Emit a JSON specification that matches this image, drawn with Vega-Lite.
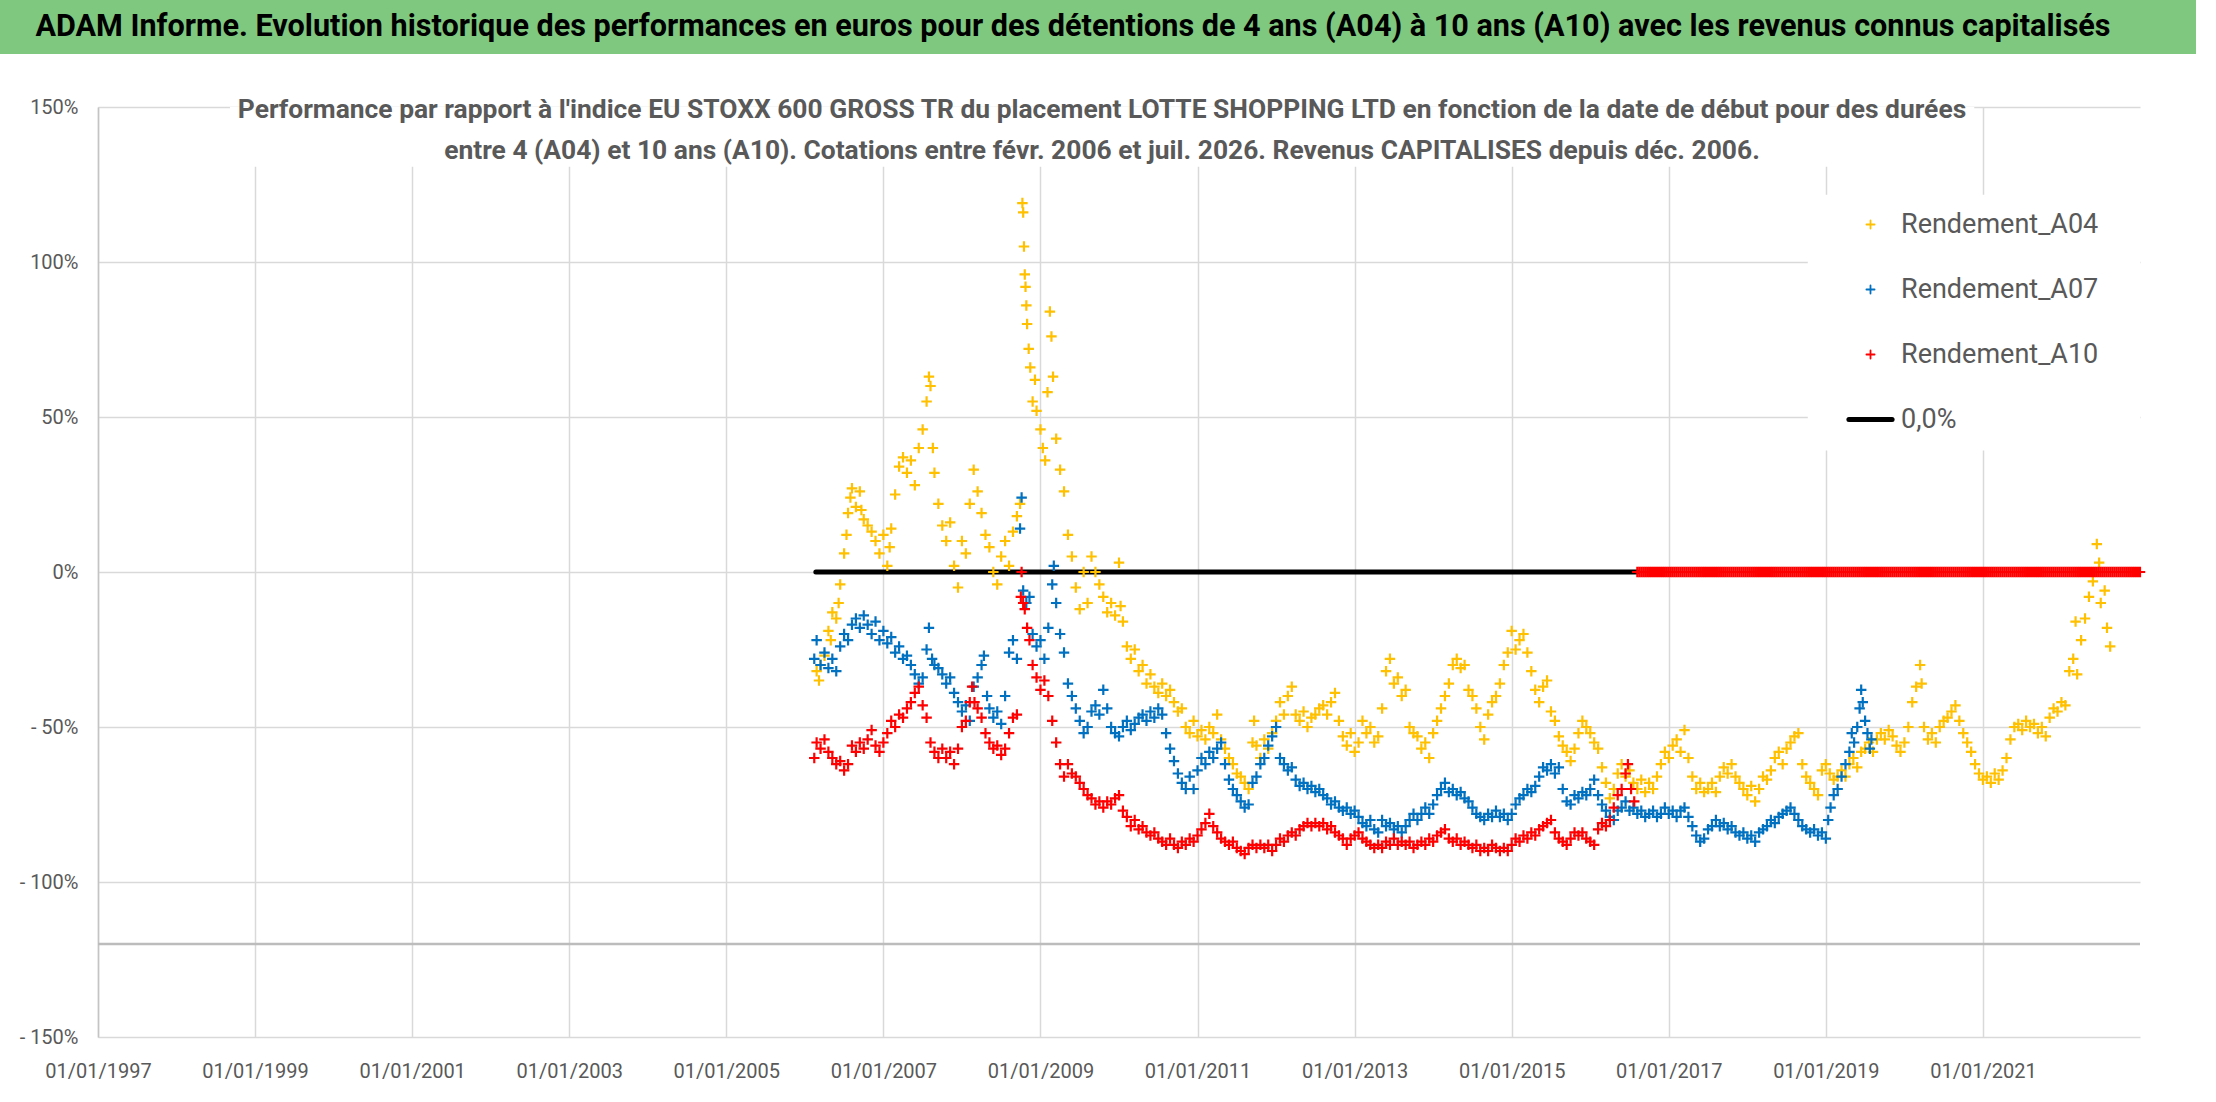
{
  "$schema": "https://vega.github.io/schema/vega-lite/v6.json",
  "padding": 0,
  "background": "white",
  "columns": 1,
  "spacing": 42,
  "config": {"view": {"stroke": null}, "font": "Roboto"},
  "concat": [
    {
      "width": 2196,
      "height": 54,
      "view": {"fill": "#7fc87f", "stroke": null},
      "data": {"values": [{"titre": "ADAM Informe. Evolution historique des performances en euros pour des détentions de 4 ans (A04) à 10 ans (A10) avec les revenus connus capitalisés"}]},
      "mark": {"type": "text", "font": "Roboto", "fontSize": 30.6, "fontWeight": "bold", "color": "#000000", "dx": -25},
      "encoding": {"text": {"field": "titre"}}
    },
    {
      "width": 2140,
      "height": 930,
      "title": {
        "text": ["Performance par rapport à l'indice EU STOXX 600 GROSS TR  du placement LOTTE SHOPPING LTD en fonction de la date de début pour des durées", "entre 4 (A04) et 10 ans (A10). Cotations entre févr. 2006 et juil. 2026. Revenus CAPITALISES depuis déc. 2006."],
        "anchor": "middle",
        "frame": "group",
        "offset": -67,
        "dx": 32,
        "lineHeight": 41,
        "font": "Roboto",
        "fontSize": 26.4,
        "fontWeight": "bold",
        "color": "#595959"
      },
      "data": {"values": [
        {"t":2006.15,"s":"A04","v":-0.32},{"t":2006.18,"s":"A04","v":-0.35},{"t":2006.20,"s":"A04","v":-0.30},{"t":2006.25,"s":"A04","v":-0.27},{"t":2006.30,"s":"A04","v":-0.19},{"t":2006.33,"s":"A04","v":-0.22},{"t":2006.35,"s":"A04","v":-0.13},{"t":2006.40,"s":"A04","v":-0.15},{"t":2006.43,"s":"A04","v":-0.10},{"t":2006.45,"s":"A04","v":-0.04},
        {"t":2006.50,"s":"A04","v":0.06},{"t":2006.53,"s":"A04","v":0.12},{"t":2006.55,"s":"A04","v":0.19},{"t":2006.58,"s":"A04","v":0.24},{"t":2006.60,"s":"A04","v":0.27},{"t":2006.65,"s":"A04","v":0.21},{"t":2006.70,"s":"A04","v":0.26},{"t":2006.72,"s":"A04","v":0.20},{"t":2006.75,"s":"A04","v":0.17},{"t":2006.80,"s":"A04","v":0.15},
        {"t":2006.85,"s":"A04","v":0.13},{"t":2006.90,"s":"A04","v":0.10},{"t":2006.95,"s":"A04","v":0.06},{"t":2007.00,"s":"A04","v":0.12},{"t":2007.05,"s":"A04","v":0.02},{"t":2007.08,"s":"A04","v":0.08},{"t":2007.10,"s":"A04","v":0.14},{"t":2007.15,"s":"A04","v":0.25},{"t":2007.20,"s":"A04","v":0.34},{"t":2007.25,"s":"A04","v":0.37},
        {"t":2007.30,"s":"A04","v":0.32},{"t":2007.35,"s":"A04","v":0.36},{"t":2007.40,"s":"A04","v":0.28},{"t":2007.45,"s":"A04","v":0.40},{"t":2007.50,"s":"A04","v":0.46},{"t":2007.55,"s":"A04","v":0.55},{"t":2007.58,"s":"A04","v":0.63},{"t":2007.60,"s":"A04","v":0.60},{"t":2007.63,"s":"A04","v":0.40},{"t":2007.65,"s":"A04","v":0.32},
        {"t":2007.70,"s":"A04","v":0.22},{"t":2007.75,"s":"A04","v":0.15},{"t":2007.80,"s":"A04","v":0.10},{"t":2007.85,"s":"A04","v":0.16},{"t":2007.90,"s":"A04","v":0.02},{"t":2007.95,"s":"A04","v":-0.05},{"t":2008.00,"s":"A04","v":0.10},{"t":2008.05,"s":"A04","v":0.06},{"t":2008.10,"s":"A04","v":0.22},{"t":2008.15,"s":"A04","v":0.33},
        {"t":2008.20,"s":"A04","v":0.26},{"t":2008.25,"s":"A04","v":0.19},{"t":2008.30,"s":"A04","v":0.12},{"t":2008.35,"s":"A04","v":0.08},{"t":2008.40,"s":"A04","v":0.00},{"t":2008.45,"s":"A04","v":-0.04},{"t":2008.50,"s":"A04","v":0.05},{"t":2008.55,"s":"A04","v":0.10},{"t":2008.60,"s":"A04","v":0.02},{"t":2008.65,"s":"A04","v":0.13},
        {"t":2008.70,"s":"A04","v":0.18},{"t":2008.74,"s":"A04","v":0.22},{"t":2008.77,"s":"A04","v":1.19},{"t":2008.78,"s":"A04","v":1.16},{"t":2008.79,"s":"A04","v":1.05},{"t":2008.80,"s":"A04","v":0.96},{"t":2008.81,"s":"A04","v":0.92},{"t":2008.82,"s":"A04","v":0.86},{"t":2008.83,"s":"A04","v":0.80},{"t":2008.85,"s":"A04","v":0.72},
        {"t":2008.87,"s":"A04","v":0.66},{"t":2008.90,"s":"A04","v":0.55},{"t":2008.93,"s":"A04","v":0.62},{"t":2008.95,"s":"A04","v":0.52},{"t":2009.00,"s":"A04","v":0.46},{"t":2009.03,"s":"A04","v":0.40},{"t":2009.06,"s":"A04","v":0.36},{"t":2009.09,"s":"A04","v":0.58},{"t":2009.12,"s":"A04","v":0.84},{"t":2009.14,"s":"A04","v":0.76},
        {"t":2009.16,"s":"A04","v":0.63},{"t":2009.20,"s":"A04","v":0.43},{"t":2009.25,"s":"A04","v":0.33},{"t":2009.30,"s":"A04","v":0.26},{"t":2009.35,"s":"A04","v":0.12},{"t":2009.40,"s":"A04","v":0.05},{"t":2009.45,"s":"A04","v":-0.05},{"t":2009.50,"s":"A04","v":-0.12},{"t":2009.55,"s":"A04","v":0.00},{"t":2009.60,"s":"A04","v":-0.10},
        {"t":2009.65,"s":"A04","v":0.05},{"t":2009.70,"s":"A04","v":0.00},{"t":2009.75,"s":"A04","v":-0.04},{"t":2009.80,"s":"A04","v":-0.08},{"t":2009.85,"s":"A04","v":-0.13},{"t":2009.90,"s":"A04","v":-0.10},{"t":2009.95,"s":"A04","v":-0.14},{"t":2010.00,"s":"A04","v":0.03},{"t":2010.02,"s":"A04","v":-0.11},{"t":2010.05,"s":"A04","v":-0.16},
        {"t":2010.10,"s":"A04","v":-0.24},{"t":2010.15,"s":"A04","v":-0.28},{"t":2010.20,"s":"A04","v":-0.25},{"t":2010.25,"s":"A04","v":-0.32},{"t":2010.30,"s":"A04","v":-0.30},{"t":2010.35,"s":"A04","v":-0.36},{"t":2010.40,"s":"A04","v":-0.33},{"t":2010.45,"s":"A04","v":-0.37},{"t":2010.50,"s":"A04","v":-0.39},{"t":2010.55,"s":"A04","v":-0.36},
        {"t":2010.60,"s":"A04","v":-0.40},{"t":2010.65,"s":"A04","v":-0.38},{"t":2010.70,"s":"A04","v":-0.42},{"t":2010.75,"s":"A04","v":-0.45},{"t":2010.80,"s":"A04","v":-0.44},{"t":2010.85,"s":"A04","v":-0.50},{"t":2010.90,"s":"A04","v":-0.52},{"t":2010.95,"s":"A04","v":-0.48},{"t":2011.00,"s":"A04","v":-0.53},{"t":2011.05,"s":"A04","v":-0.51},
        {"t":2011.10,"s":"A04","v":-0.54},{"t":2011.15,"s":"A04","v":-0.50},{"t":2011.20,"s":"A04","v":-0.52},{"t":2011.25,"s":"A04","v":-0.46},{"t":2011.30,"s":"A04","v":-0.54},{"t":2011.35,"s":"A04","v":-0.57},{"t":2011.40,"s":"A04","v":-0.60},{"t":2011.45,"s":"A04","v":-0.62},{"t":2011.50,"s":"A04","v":-0.65},{"t":2011.55,"s":"A04","v":-0.66},
        {"t":2011.60,"s":"A04","v":-0.68},{"t":2011.65,"s":"A04","v":-0.70},{"t":2011.70,"s":"A04","v":-0.55},{"t":2011.72,"s":"A04","v":-0.48},{"t":2011.75,"s":"A04","v":-0.56},{"t":2011.80,"s":"A04","v":-0.60},{"t":2011.85,"s":"A04","v":-0.54},{"t":2011.90,"s":"A04","v":-0.57},{"t":2011.95,"s":"A04","v":-0.52},{"t":2012.00,"s":"A04","v":-0.48},
        {"t":2012.05,"s":"A04","v":-0.42},{"t":2012.10,"s":"A04","v":-0.46},{"t":2012.15,"s":"A04","v":-0.40},{"t":2012.20,"s":"A04","v":-0.37},{"t":2012.25,"s":"A04","v":-0.46},{"t":2012.30,"s":"A04","v":-0.48},{"t":2012.35,"s":"A04","v":-0.45},{"t":2012.40,"s":"A04","v":-0.50},{"t":2012.45,"s":"A04","v":-0.47},{"t":2012.50,"s":"A04","v":-0.46},
        {"t":2012.55,"s":"A04","v":-0.44},{"t":2012.60,"s":"A04","v":-0.43},{"t":2012.65,"s":"A04","v":-0.46},{"t":2012.70,"s":"A04","v":-0.42},{"t":2012.75,"s":"A04","v":-0.39},{"t":2012.80,"s":"A04","v":-0.48},{"t":2012.85,"s":"A04","v":-0.53},{"t":2012.90,"s":"A04","v":-0.56},{"t":2012.95,"s":"A04","v":-0.52},{"t":2013.00,"s":"A04","v":-0.58},
        {"t":2013.05,"s":"A04","v":-0.55},{"t":2013.10,"s":"A04","v":-0.48},{"t":2013.15,"s":"A04","v":-0.52},{"t":2013.20,"s":"A04","v":-0.50},{"t":2013.25,"s":"A04","v":-0.55},{"t":2013.30,"s":"A04","v":-0.53},{"t":2013.35,"s":"A04","v":-0.44},{"t":2013.40,"s":"A04","v":-0.32},{"t":2013.45,"s":"A04","v":-0.28},{"t":2013.50,"s":"A04","v":-0.36},
        {"t":2013.55,"s":"A04","v":-0.34},{"t":2013.60,"s":"A04","v":-0.40},{"t":2013.65,"s":"A04","v":-0.38},{"t":2013.70,"s":"A04","v":-0.50},{"t":2013.75,"s":"A04","v":-0.52},{"t":2013.80,"s":"A04","v":-0.53},{"t":2013.85,"s":"A04","v":-0.57},{"t":2013.90,"s":"A04","v":-0.55},{"t":2013.95,"s":"A04","v":-0.60},{"t":2014.00,"s":"A04","v":-0.52},
        {"t":2014.05,"s":"A04","v":-0.48},{"t":2014.10,"s":"A04","v":-0.44},{"t":2014.15,"s":"A04","v":-0.40},{"t":2014.20,"s":"A04","v":-0.36},{"t":2014.25,"s":"A04","v":-0.30},{"t":2014.30,"s":"A04","v":-0.28},{"t":2014.35,"s":"A04","v":-0.31},{"t":2014.40,"s":"A04","v":-0.30},{"t":2014.45,"s":"A04","v":-0.38},{"t":2014.50,"s":"A04","v":-0.40},
        {"t":2014.55,"s":"A04","v":-0.44},{"t":2014.60,"s":"A04","v":-0.50},{"t":2014.65,"s":"A04","v":-0.54},{"t":2014.70,"s":"A04","v":-0.46},{"t":2014.75,"s":"A04","v":-0.42},{"t":2014.80,"s":"A04","v":-0.40},{"t":2014.85,"s":"A04","v":-0.36},{"t":2014.90,"s":"A04","v":-0.30},{"t":2014.95,"s":"A04","v":-0.26},{"t":2015.00,"s":"A04","v":-0.19},
        {"t":2015.05,"s":"A04","v":-0.25},{"t":2015.10,"s":"A04","v":-0.22},{"t":2015.15,"s":"A04","v":-0.20},{"t":2015.20,"s":"A04","v":-0.26},{"t":2015.25,"s":"A04","v":-0.32},{"t":2015.30,"s":"A04","v":-0.38},{"t":2015.35,"s":"A04","v":-0.42},{"t":2015.40,"s":"A04","v":-0.37},{"t":2015.45,"s":"A04","v":-0.35},{"t":2015.50,"s":"A04","v":-0.45},
        {"t":2015.55,"s":"A04","v":-0.48},{"t":2015.60,"s":"A04","v":-0.53},{"t":2015.65,"s":"A04","v":-0.56},{"t":2015.70,"s":"A04","v":-0.58},{"t":2015.75,"s":"A04","v":-0.61},{"t":2015.80,"s":"A04","v":-0.57},{"t":2015.85,"s":"A04","v":-0.52},{"t":2015.90,"s":"A04","v":-0.48},{"t":2015.95,"s":"A04","v":-0.50},{"t":2016.00,"s":"A04","v":-0.52},
        {"t":2016.05,"s":"A04","v":-0.55},{"t":2016.10,"s":"A04","v":-0.57},{"t":2016.15,"s":"A04","v":-0.63},{"t":2016.20,"s":"A04","v":-0.68},{"t":2016.25,"s":"A04","v":-0.73},{"t":2016.30,"s":"A04","v":-0.70},{"t":2016.35,"s":"A04","v":-0.65},{"t":2016.40,"s":"A04","v":-0.62},{"t":2016.45,"s":"A04","v":-0.66},{"t":2016.50,"s":"A04","v":-0.64},
        {"t":2016.55,"s":"A04","v":-0.68},{"t":2016.60,"s":"A04","v":-0.70},{"t":2016.65,"s":"A04","v":-0.67},{"t":2016.70,"s":"A04","v":-0.71},{"t":2016.75,"s":"A04","v":-0.68},{"t":2016.80,"s":"A04","v":-0.70},{"t":2016.85,"s":"A04","v":-0.66},{"t":2016.90,"s":"A04","v":-0.62},{"t":2016.95,"s":"A04","v":-0.58},{"t":2017.00,"s":"A04","v":-0.60},
        {"t":2017.05,"s":"A04","v":-0.56},{"t":2017.10,"s":"A04","v":-0.54},{"t":2017.15,"s":"A04","v":-0.58},{"t":2017.20,"s":"A04","v":-0.51},{"t":2017.25,"s":"A04","v":-0.60},{"t":2017.30,"s":"A04","v":-0.66},{"t":2017.35,"s":"A04","v":-0.70},{"t":2017.40,"s":"A04","v":-0.68},{"t":2017.45,"s":"A04","v":-0.71},{"t":2017.50,"s":"A04","v":-0.70},
        {"t":2017.55,"s":"A04","v":-0.68},{"t":2017.60,"s":"A04","v":-0.71},{"t":2017.65,"s":"A04","v":-0.66},{"t":2017.70,"s":"A04","v":-0.63},{"t":2017.75,"s":"A04","v":-0.65},{"t":2017.80,"s":"A04","v":-0.62},{"t":2017.85,"s":"A04","v":-0.66},{"t":2017.90,"s":"A04","v":-0.68},{"t":2017.95,"s":"A04","v":-0.70},{"t":2018.00,"s":"A04","v":-0.72},
        {"t":2018.05,"s":"A04","v":-0.69},{"t":2018.10,"s":"A04","v":-0.74},{"t":2018.15,"s":"A04","v":-0.70},{"t":2018.20,"s":"A04","v":-0.66},{"t":2018.25,"s":"A04","v":-0.67},{"t":2018.30,"s":"A04","v":-0.64},{"t":2018.35,"s":"A04","v":-0.60},{"t":2018.40,"s":"A04","v":-0.58},{"t":2018.45,"s":"A04","v":-0.62},{"t":2018.50,"s":"A04","v":-0.57},
        {"t":2018.55,"s":"A04","v":-0.55},{"t":2018.60,"s":"A04","v":-0.53},{"t":2018.65,"s":"A04","v":-0.52},{"t":2018.70,"s":"A04","v":-0.62},{"t":2018.75,"s":"A04","v":-0.66},{"t":2018.80,"s":"A04","v":-0.68},{"t":2018.85,"s":"A04","v":-0.70},{"t":2018.90,"s":"A04","v":-0.72},{"t":2018.95,"s":"A04","v":-0.64},{"t":2019.00,"s":"A04","v":-0.62},
        {"t":2019.05,"s":"A04","v":-0.65},{"t":2019.10,"s":"A04","v":-0.67},{"t":2019.15,"s":"A04","v":-0.66},{"t":2019.20,"s":"A04","v":-0.64},{"t":2019.25,"s":"A04","v":-0.66},{"t":2019.30,"s":"A04","v":-0.62},{"t":2019.35,"s":"A04","v":-0.60},{"t":2019.40,"s":"A04","v":-0.63},{"t":2019.45,"s":"A04","v":-0.58},{"t":2019.50,"s":"A04","v":-0.57},
        {"t":2019.55,"s":"A04","v":-0.55},{"t":2019.60,"s":"A04","v":-0.58},{"t":2019.65,"s":"A04","v":-0.54},{"t":2019.70,"s":"A04","v":-0.52},{"t":2019.75,"s":"A04","v":-0.54},{"t":2019.80,"s":"A04","v":-0.51},{"t":2019.85,"s":"A04","v":-0.53},{"t":2019.90,"s":"A04","v":-0.56},{"t":2019.95,"s":"A04","v":-0.58},{"t":2020.00,"s":"A04","v":-0.55},
        {"t":2020.05,"s":"A04","v":-0.50},{"t":2020.10,"s":"A04","v":-0.42},{"t":2020.15,"s":"A04","v":-0.37},{"t":2020.20,"s":"A04","v":-0.30},{"t":2020.22,"s":"A04","v":-0.36},{"t":2020.25,"s":"A04","v":-0.50},{"t":2020.30,"s":"A04","v":-0.54},{"t":2020.35,"s":"A04","v":-0.52},{"t":2020.40,"s":"A04","v":-0.55},{"t":2020.45,"s":"A04","v":-0.50},
        {"t":2020.50,"s":"A04","v":-0.48},{"t":2020.55,"s":"A04","v":-0.47},{"t":2020.60,"s":"A04","v":-0.45},{"t":2020.65,"s":"A04","v":-0.43},{"t":2020.70,"s":"A04","v":-0.48},{"t":2020.75,"s":"A04","v":-0.52},{"t":2020.80,"s":"A04","v":-0.55},{"t":2020.85,"s":"A04","v":-0.58},{"t":2020.90,"s":"A04","v":-0.62},{"t":2020.95,"s":"A04","v":-0.65},
        {"t":2021.00,"s":"A04","v":-0.67},{"t":2021.05,"s":"A04","v":-0.66},{"t":2021.10,"s":"A04","v":-0.68},{"t":2021.15,"s":"A04","v":-0.65},{"t":2021.20,"s":"A04","v":-0.67},{"t":2021.25,"s":"A04","v":-0.64},{"t":2021.30,"s":"A04","v":-0.60},{"t":2021.35,"s":"A04","v":-0.54},{"t":2021.40,"s":"A04","v":-0.50},{"t":2021.45,"s":"A04","v":-0.49},
        {"t":2021.50,"s":"A04","v":-0.51},{"t":2021.55,"s":"A04","v":-0.48},{"t":2021.60,"s":"A04","v":-0.50},{"t":2021.65,"s":"A04","v":-0.49},{"t":2021.70,"s":"A04","v":-0.52},{"t":2021.75,"s":"A04","v":-0.50},{"t":2021.80,"s":"A04","v":-0.53},{"t":2021.85,"s":"A04","v":-0.47},{"t":2021.90,"s":"A04","v":-0.44},{"t":2021.95,"s":"A04","v":-0.45},
        {"t":2022.00,"s":"A04","v":-0.42},{"t":2022.05,"s":"A04","v":-0.43},{"t":2022.10,"s":"A04","v":-0.32},{"t":2022.15,"s":"A04","v":-0.28},{"t":2022.18,"s":"A04","v":-0.16},{"t":2022.20,"s":"A04","v":-0.33},{"t":2022.25,"s":"A04","v":-0.22},{"t":2022.30,"s":"A04","v":-0.15},{"t":2022.35,"s":"A04","v":-0.08},{"t":2022.40,"s":"A04","v":-0.03},
        {"t":2022.45,"s":"A04","v":0.09},{"t":2022.48,"s":"A04","v":0.03},{"t":2022.50,"s":"A04","v":-0.10},{"t":2022.55,"s":"A04","v":-0.06},{"t":2022.58,"s":"A04","v":-0.18},{"t":2022.62,"s":"A04","v":-0.24},

        {"t":2006.12,"s":"A07","v":-0.28},{"t":2006.15,"s":"A07","v":-0.22},{"t":2006.20,"s":"A07","v":-0.30},{"t":2006.25,"s":"A07","v":-0.26},{"t":2006.30,"s":"A07","v":-0.31},{"t":2006.35,"s":"A07","v":-0.28},{"t":2006.40,"s":"A07","v":-0.32},{"t":2006.45,"s":"A07","v":-0.24},{"t":2006.50,"s":"A07","v":-0.20},{"t":2006.55,"s":"A07","v":-0.22},
        {"t":2006.60,"s":"A07","v":-0.17},{"t":2006.65,"s":"A07","v":-0.15},{"t":2006.70,"s":"A07","v":-0.18},{"t":2006.75,"s":"A07","v":-0.14},{"t":2006.80,"s":"A07","v":-0.17},{"t":2006.85,"s":"A07","v":-0.20},{"t":2006.90,"s":"A07","v":-0.16},{"t":2006.95,"s":"A07","v":-0.22},{"t":2007.00,"s":"A07","v":-0.19},{"t":2007.05,"s":"A07","v":-0.23},
        {"t":2007.10,"s":"A07","v":-0.21},{"t":2007.15,"s":"A07","v":-0.26},{"t":2007.20,"s":"A07","v":-0.24},{"t":2007.25,"s":"A07","v":-0.28},{"t":2007.30,"s":"A07","v":-0.27},{"t":2007.35,"s":"A07","v":-0.30},{"t":2007.40,"s":"A07","v":-0.33},{"t":2007.45,"s":"A07","v":-0.36},{"t":2007.50,"s":"A07","v":-0.34},{"t":2007.55,"s":"A07","v":-0.25},
        {"t":2007.58,"s":"A07","v":-0.18},{"t":2007.62,"s":"A07","v":-0.28},{"t":2007.65,"s":"A07","v":-0.30},{"t":2007.70,"s":"A07","v":-0.31},{"t":2007.75,"s":"A07","v":-0.33},{"t":2007.80,"s":"A07","v":-0.36},{"t":2007.85,"s":"A07","v":-0.34},{"t":2007.90,"s":"A07","v":-0.39},{"t":2007.95,"s":"A07","v":-0.42},{"t":2008.00,"s":"A07","v":-0.45},
        {"t":2008.05,"s":"A07","v":-0.43},{"t":2008.10,"s":"A07","v":-0.48},{"t":2008.15,"s":"A07","v":-0.37},{"t":2008.20,"s":"A07","v":-0.34},{"t":2008.25,"s":"A07","v":-0.30},{"t":2008.28,"s":"A07","v":-0.27},{"t":2008.32,"s":"A07","v":-0.40},{"t":2008.35,"s":"A07","v":-0.44},{"t":2008.40,"s":"A07","v":-0.47},{"t":2008.45,"s":"A07","v":-0.45},
        {"t":2008.50,"s":"A07","v":-0.49},{"t":2008.55,"s":"A07","v":-0.40},{"t":2008.60,"s":"A07","v":-0.26},{"t":2008.65,"s":"A07","v":-0.22},{"t":2008.70,"s":"A07","v":-0.28},{"t":2008.74,"s":"A07","v":0.14},{"t":2008.76,"s":"A07","v":0.24},{"t":2008.78,"s":"A07","v":-0.06},{"t":2008.82,"s":"A07","v":-0.10},{"t":2008.86,"s":"A07","v":-0.08},
        {"t":2008.90,"s":"A07","v":-0.20},{"t":2008.95,"s":"A07","v":-0.24},{"t":2009.00,"s":"A07","v":-0.22},{"t":2009.05,"s":"A07","v":-0.28},{"t":2009.10,"s":"A07","v":-0.18},{"t":2009.15,"s":"A07","v":-0.04},{"t":2009.17,"s":"A07","v":0.02},{"t":2009.20,"s":"A07","v":-0.10},{"t":2009.25,"s":"A07","v":-0.20},{"t":2009.30,"s":"A07","v":-0.26},
        {"t":2009.35,"s":"A07","v":-0.36},{"t":2009.40,"s":"A07","v":-0.40},{"t":2009.45,"s":"A07","v":-0.44},{"t":2009.50,"s":"A07","v":-0.48},{"t":2009.55,"s":"A07","v":-0.52},{"t":2009.60,"s":"A07","v":-0.50},{"t":2009.65,"s":"A07","v":-0.45},{"t":2009.70,"s":"A07","v":-0.43},{"t":2009.75,"s":"A07","v":-0.46},{"t":2009.80,"s":"A07","v":-0.38},
        {"t":2009.85,"s":"A07","v":-0.44},{"t":2009.90,"s":"A07","v":-0.50},{"t":2009.95,"s":"A07","v":-0.52},{"t":2010.00,"s":"A07","v":-0.53},{"t":2010.05,"s":"A07","v":-0.50},{"t":2010.10,"s":"A07","v":-0.48},{"t":2010.15,"s":"A07","v":-0.51},{"t":2010.20,"s":"A07","v":-0.49},{"t":2010.25,"s":"A07","v":-0.47},{"t":2010.30,"s":"A07","v":-0.46},
        {"t":2010.35,"s":"A07","v":-0.48},{"t":2010.40,"s":"A07","v":-0.45},{"t":2010.45,"s":"A07","v":-0.47},{"t":2010.50,"s":"A07","v":-0.44},{"t":2010.55,"s":"A07","v":-0.46},{"t":2010.60,"s":"A07","v":-0.52},{"t":2010.65,"s":"A07","v":-0.57},{"t":2010.70,"s":"A07","v":-0.61},{"t":2010.75,"s":"A07","v":-0.65},{"t":2010.80,"s":"A07","v":-0.68},
        {"t":2010.85,"s":"A07","v":-0.70},{"t":2010.90,"s":"A07","v":-0.66},{"t":2010.95,"s":"A07","v":-0.70},{"t":2011.00,"s":"A07","v":-0.64},{"t":2011.05,"s":"A07","v":-0.60},{"t":2011.10,"s":"A07","v":-0.62},{"t":2011.15,"s":"A07","v":-0.58},{"t":2011.20,"s":"A07","v":-0.60},{"t":2011.25,"s":"A07","v":-0.57},{"t":2011.30,"s":"A07","v":-0.55},
        {"t":2011.35,"s":"A07","v":-0.62},{"t":2011.40,"s":"A07","v":-0.67},{"t":2011.45,"s":"A07","v":-0.70},{"t":2011.50,"s":"A07","v":-0.72},{"t":2011.55,"s":"A07","v":-0.74},{"t":2011.60,"s":"A07","v":-0.76},{"t":2011.65,"s":"A07","v":-0.75},{"t":2011.70,"s":"A07","v":-0.68},{"t":2011.75,"s":"A07","v":-0.66},{"t":2011.80,"s":"A07","v":-0.62},
        {"t":2011.85,"s":"A07","v":-0.60},{"t":2011.90,"s":"A07","v":-0.56},{"t":2011.95,"s":"A07","v":-0.53},{"t":2012.00,"s":"A07","v":-0.50},{"t":2012.05,"s":"A07","v":-0.60},{"t":2012.10,"s":"A07","v":-0.62},{"t":2012.15,"s":"A07","v":-0.64},{"t":2012.20,"s":"A07","v":-0.63},{"t":2012.25,"s":"A07","v":-0.67},{"t":2012.30,"s":"A07","v":-0.69},
        {"t":2012.35,"s":"A07","v":-0.68},{"t":2012.40,"s":"A07","v":-0.70},{"t":2012.45,"s":"A07","v":-0.69},{"t":2012.50,"s":"A07","v":-0.71},{"t":2012.55,"s":"A07","v":-0.70},{"t":2012.60,"s":"A07","v":-0.72},{"t":2012.65,"s":"A07","v":-0.73},{"t":2012.70,"s":"A07","v":-0.75},{"t":2012.75,"s":"A07","v":-0.74},{"t":2012.80,"s":"A07","v":-0.76},
        {"t":2012.85,"s":"A07","v":-0.77},{"t":2012.90,"s":"A07","v":-0.76},{"t":2012.95,"s":"A07","v":-0.78},{"t":2013.00,"s":"A07","v":-0.77},{"t":2013.05,"s":"A07","v":-0.79},{"t":2013.10,"s":"A07","v":-0.81},{"t":2013.15,"s":"A07","v":-0.82},{"t":2013.20,"s":"A07","v":-0.80},{"t":2013.25,"s":"A07","v":-0.83},{"t":2013.30,"s":"A07","v":-0.84},
        {"t":2013.35,"s":"A07","v":-0.80},{"t":2013.40,"s":"A07","v":-0.82},{"t":2013.45,"s":"A07","v":-0.81},{"t":2013.50,"s":"A07","v":-0.83},{"t":2013.55,"s":"A07","v":-0.82},{"t":2013.60,"s":"A07","v":-0.84},{"t":2013.65,"s":"A07","v":-0.82},{"t":2013.70,"s":"A07","v":-0.80},{"t":2013.75,"s":"A07","v":-0.78},{"t":2013.80,"s":"A07","v":-0.80},
        {"t":2013.85,"s":"A07","v":-0.78},{"t":2013.90,"s":"A07","v":-0.76},{"t":2013.95,"s":"A07","v":-0.78},{"t":2014.00,"s":"A07","v":-0.75},{"t":2014.05,"s":"A07","v":-0.72},{"t":2014.10,"s":"A07","v":-0.70},{"t":2014.15,"s":"A07","v":-0.68},{"t":2014.20,"s":"A07","v":-0.71},{"t":2014.25,"s":"A07","v":-0.70},{"t":2014.30,"s":"A07","v":-0.72},
        {"t":2014.35,"s":"A07","v":-0.71},{"t":2014.40,"s":"A07","v":-0.73},{"t":2014.45,"s":"A07","v":-0.74},{"t":2014.50,"s":"A07","v":-0.76},{"t":2014.55,"s":"A07","v":-0.78},{"t":2014.60,"s":"A07","v":-0.79},{"t":2014.65,"s":"A07","v":-0.80},{"t":2014.70,"s":"A07","v":-0.78},{"t":2014.75,"s":"A07","v":-0.79},{"t":2014.80,"s":"A07","v":-0.77},
        {"t":2014.85,"s":"A07","v":-0.79},{"t":2014.90,"s":"A07","v":-0.78},{"t":2014.95,"s":"A07","v":-0.80},{"t":2015.00,"s":"A07","v":-0.78},{"t":2015.05,"s":"A07","v":-0.75},{"t":2015.10,"s":"A07","v":-0.73},{"t":2015.15,"s":"A07","v":-0.72},{"t":2015.20,"s":"A07","v":-0.70},{"t":2015.25,"s":"A07","v":-0.71},{"t":2015.30,"s":"A07","v":-0.69},
        {"t":2015.35,"s":"A07","v":-0.66},{"t":2015.40,"s":"A07","v":-0.63},{"t":2015.45,"s":"A07","v":-0.64},{"t":2015.50,"s":"A07","v":-0.62},{"t":2015.55,"s":"A07","v":-0.65},{"t":2015.60,"s":"A07","v":-0.63},{"t":2015.65,"s":"A07","v":-0.70},{"t":2015.70,"s":"A07","v":-0.74},{"t":2015.75,"s":"A07","v":-0.75},{"t":2015.80,"s":"A07","v":-0.72},
        {"t":2015.85,"s":"A07","v":-0.73},{"t":2015.90,"s":"A07","v":-0.71},{"t":2015.95,"s":"A07","v":-0.72},{"t":2016.00,"s":"A07","v":-0.70},{"t":2016.05,"s":"A07","v":-0.67},{"t":2016.10,"s":"A07","v":-0.72},{"t":2016.15,"s":"A07","v":-0.75},{"t":2016.20,"s":"A07","v":-0.77},{"t":2016.25,"s":"A07","v":-0.79},{"t":2016.30,"s":"A07","v":-0.80},
        {"t":2016.35,"s":"A07","v":-0.77},{"t":2016.40,"s":"A07","v":-0.76},{"t":2016.45,"s":"A07","v":-0.74},{"t":2016.50,"s":"A07","v":-0.77},{"t":2016.55,"s":"A07","v":-0.76},{"t":2016.60,"s":"A07","v":-0.78},{"t":2016.65,"s":"A07","v":-0.77},{"t":2016.70,"s":"A07","v":-0.79},{"t":2016.75,"s":"A07","v":-0.78},{"t":2016.80,"s":"A07","v":-0.77},
        {"t":2016.85,"s":"A07","v":-0.79},{"t":2016.90,"s":"A07","v":-0.78},{"t":2016.95,"s":"A07","v":-0.76},{"t":2017.00,"s":"A07","v":-0.78},{"t":2017.05,"s":"A07","v":-0.77},{"t":2017.10,"s":"A07","v":-0.79},{"t":2017.15,"s":"A07","v":-0.77},{"t":2017.20,"s":"A07","v":-0.76},{"t":2017.25,"s":"A07","v":-0.79},{"t":2017.30,"s":"A07","v":-0.82},
        {"t":2017.35,"s":"A07","v":-0.85},{"t":2017.40,"s":"A07","v":-0.87},{"t":2017.45,"s":"A07","v":-0.86},{"t":2017.50,"s":"A07","v":-0.83},{"t":2017.55,"s":"A07","v":-0.82},{"t":2017.60,"s":"A07","v":-0.80},{"t":2017.65,"s":"A07","v":-0.82},{"t":2017.70,"s":"A07","v":-0.81},{"t":2017.75,"s":"A07","v":-0.83},{"t":2017.80,"s":"A07","v":-0.82},
        {"t":2017.85,"s":"A07","v":-0.84},{"t":2017.90,"s":"A07","v":-0.85},{"t":2017.95,"s":"A07","v":-0.84},{"t":2018.00,"s":"A07","v":-0.86},{"t":2018.05,"s":"A07","v":-0.85},{"t":2018.10,"s":"A07","v":-0.87},{"t":2018.15,"s":"A07","v":-0.84},{"t":2018.20,"s":"A07","v":-0.83},{"t":2018.25,"s":"A07","v":-0.82},{"t":2018.30,"s":"A07","v":-0.80},
        {"t":2018.35,"s":"A07","v":-0.81},{"t":2018.40,"s":"A07","v":-0.79},{"t":2018.45,"s":"A07","v":-0.78},{"t":2018.50,"s":"A07","v":-0.77},{"t":2018.55,"s":"A07","v":-0.76},{"t":2018.60,"s":"A07","v":-0.78},{"t":2018.65,"s":"A07","v":-0.80},{"t":2018.70,"s":"A07","v":-0.82},{"t":2018.75,"s":"A07","v":-0.83},{"t":2018.80,"s":"A07","v":-0.84},
        {"t":2018.85,"s":"A07","v":-0.83},{"t":2018.90,"s":"A07","v":-0.85},{"t":2018.95,"s":"A07","v":-0.84},{"t":2019.00,"s":"A07","v":-0.86},{"t":2019.03,"s":"A07","v":-0.80},{"t":2019.06,"s":"A07","v":-0.76},{"t":2019.10,"s":"A07","v":-0.72},{"t":2019.15,"s":"A07","v":-0.70},{"t":2019.20,"s":"A07","v":-0.66},{"t":2019.25,"s":"A07","v":-0.62},
        {"t":2019.30,"s":"A07","v":-0.58},{"t":2019.33,"s":"A07","v":-0.52},{"t":2019.36,"s":"A07","v":-0.55},{"t":2019.40,"s":"A07","v":-0.50},{"t":2019.43,"s":"A07","v":-0.44},{"t":2019.45,"s":"A07","v":-0.38},{"t":2019.47,"s":"A07","v":-0.42},{"t":2019.50,"s":"A07","v":-0.48},{"t":2019.53,"s":"A07","v":-0.52},{"t":2019.56,"s":"A07","v":-0.57},{"t":2019.58,"s":"A07","v":-0.54},

        {"t":2006.12,"s":"A10","v":-0.60},{"t":2006.15,"s":"A10","v":-0.55},{"t":2006.20,"s":"A10","v":-0.57},{"t":2006.25,"s":"A10","v":-0.54},{"t":2006.30,"s":"A10","v":-0.58},{"t":2006.35,"s":"A10","v":-0.60},{"t":2006.40,"s":"A10","v":-0.62},{"t":2006.45,"s":"A10","v":-0.61},{"t":2006.50,"s":"A10","v":-0.64},{"t":2006.55,"s":"A10","v":-0.62},
        {"t":2006.60,"s":"A10","v":-0.56},{"t":2006.65,"s":"A10","v":-0.58},{"t":2006.70,"s":"A10","v":-0.55},{"t":2006.75,"s":"A10","v":-0.57},{"t":2006.80,"s":"A10","v":-0.54},{"t":2006.85,"s":"A10","v":-0.51},{"t":2006.90,"s":"A10","v":-0.56},{"t":2006.95,"s":"A10","v":-0.58},{"t":2007.00,"s":"A10","v":-0.55},{"t":2007.05,"s":"A10","v":-0.52},
        {"t":2007.10,"s":"A10","v":-0.48},{"t":2007.15,"s":"A10","v":-0.50},{"t":2007.20,"s":"A10","v":-0.46},{"t":2007.25,"s":"A10","v":-0.47},{"t":2007.30,"s":"A10","v":-0.44},{"t":2007.35,"s":"A10","v":-0.42},{"t":2007.40,"s":"A10","v":-0.39},{"t":2007.45,"s":"A10","v":-0.37},{"t":2007.50,"s":"A10","v":-0.43},{"t":2007.55,"s":"A10","v":-0.47},
        {"t":2007.60,"s":"A10","v":-0.55},{"t":2007.65,"s":"A10","v":-0.58},{"t":2007.70,"s":"A10","v":-0.60},{"t":2007.75,"s":"A10","v":-0.57},{"t":2007.80,"s":"A10","v":-0.60},{"t":2007.85,"s":"A10","v":-0.58},{"t":2007.90,"s":"A10","v":-0.62},{"t":2007.95,"s":"A10","v":-0.57},{"t":2008.00,"s":"A10","v":-0.50},{"t":2008.05,"s":"A10","v":-0.48},
        {"t":2008.10,"s":"A10","v":-0.42},{"t":2008.13,"s":"A10","v":-0.37},{"t":2008.16,"s":"A10","v":-0.42},{"t":2008.20,"s":"A10","v":-0.44},{"t":2008.25,"s":"A10","v":-0.47},{"t":2008.30,"s":"A10","v":-0.52},{"t":2008.35,"s":"A10","v":-0.55},{"t":2008.40,"s":"A10","v":-0.57},{"t":2008.45,"s":"A10","v":-0.56},{"t":2008.50,"s":"A10","v":-0.59},
        {"t":2008.55,"s":"A10","v":-0.57},{"t":2008.60,"s":"A10","v":-0.52},{"t":2008.65,"s":"A10","v":-0.47},{"t":2008.70,"s":"A10","v":-0.46},{"t":2008.75,"s":"A10","v":-0.08},{"t":2008.76,"s":"A10","v":0.00},{"t":2008.78,"s":"A10","v":-0.10},{"t":2008.80,"s":"A10","v":-0.12},{"t":2008.83,"s":"A10","v":-0.18},{"t":2008.86,"s":"A10","v":-0.22},
        {"t":2008.90,"s":"A10","v":-0.30},{"t":2008.95,"s":"A10","v":-0.34},{"t":2009.00,"s":"A10","v":-0.38},{"t":2009.05,"s":"A10","v":-0.35},{"t":2009.10,"s":"A10","v":-0.40},{"t":2009.15,"s":"A10","v":-0.48},{"t":2009.20,"s":"A10","v":-0.55},{"t":2009.25,"s":"A10","v":-0.62},{"t":2009.30,"s":"A10","v":-0.66},{"t":2009.35,"s":"A10","v":-0.62},
        {"t":2009.40,"s":"A10","v":-0.65},{"t":2009.45,"s":"A10","v":-0.66},{"t":2009.50,"s":"A10","v":-0.68},{"t":2009.55,"s":"A10","v":-0.70},{"t":2009.60,"s":"A10","v":-0.72},{"t":2009.65,"s":"A10","v":-0.73},{"t":2009.70,"s":"A10","v":-0.75},{"t":2009.75,"s":"A10","v":-0.74},{"t":2009.80,"s":"A10","v":-0.76},{"t":2009.85,"s":"A10","v":-0.74},
        {"t":2009.90,"s":"A10","v":-0.75},{"t":2009.95,"s":"A10","v":-0.73},{"t":2010.00,"s":"A10","v":-0.72},{"t":2010.05,"s":"A10","v":-0.77},{"t":2010.10,"s":"A10","v":-0.79},{"t":2010.15,"s":"A10","v":-0.82},{"t":2010.20,"s":"A10","v":-0.80},{"t":2010.25,"s":"A10","v":-0.83},{"t":2010.30,"s":"A10","v":-0.82},{"t":2010.35,"s":"A10","v":-0.84},
        {"t":2010.40,"s":"A10","v":-0.85},{"t":2010.45,"s":"A10","v":-0.84},{"t":2010.50,"s":"A10","v":-0.86},{"t":2010.55,"s":"A10","v":-0.87},{"t":2010.60,"s":"A10","v":-0.88},{"t":2010.65,"s":"A10","v":-0.86},{"t":2010.70,"s":"A10","v":-0.88},{"t":2010.75,"s":"A10","v":-0.89},{"t":2010.80,"s":"A10","v":-0.87},{"t":2010.85,"s":"A10","v":-0.88},
        {"t":2010.90,"s":"A10","v":-0.86},{"t":2010.95,"s":"A10","v":-0.87},{"t":2011.00,"s":"A10","v":-0.85},{"t":2011.05,"s":"A10","v":-0.83},{"t":2011.10,"s":"A10","v":-0.81},{"t":2011.15,"s":"A10","v":-0.78},{"t":2011.20,"s":"A10","v":-0.82},{"t":2011.25,"s":"A10","v":-0.84},{"t":2011.30,"s":"A10","v":-0.86},{"t":2011.35,"s":"A10","v":-0.87},
        {"t":2011.40,"s":"A10","v":-0.88},{"t":2011.45,"s":"A10","v":-0.87},{"t":2011.50,"s":"A10","v":-0.89},{"t":2011.55,"s":"A10","v":-0.90},{"t":2011.60,"s":"A10","v":-0.91},{"t":2011.65,"s":"A10","v":-0.89},{"t":2011.70,"s":"A10","v":-0.88},{"t":2011.75,"s":"A10","v":-0.89},{"t":2011.80,"s":"A10","v":-0.88},{"t":2011.85,"s":"A10","v":-0.89},
        {"t":2011.90,"s":"A10","v":-0.88},{"t":2011.95,"s":"A10","v":-0.90},{"t":2012.00,"s":"A10","v":-0.88},{"t":2012.05,"s":"A10","v":-0.86},{"t":2012.10,"s":"A10","v":-0.87},{"t":2012.15,"s":"A10","v":-0.85},{"t":2012.20,"s":"A10","v":-0.84},{"t":2012.25,"s":"A10","v":-0.85},{"t":2012.30,"s":"A10","v":-0.83},{"t":2012.35,"s":"A10","v":-0.82},
        {"t":2012.40,"s":"A10","v":-0.81},{"t":2012.45,"s":"A10","v":-0.82},{"t":2012.50,"s":"A10","v":-0.81},{"t":2012.55,"s":"A10","v":-0.82},{"t":2012.60,"s":"A10","v":-0.81},{"t":2012.65,"s":"A10","v":-0.83},{"t":2012.70,"s":"A10","v":-0.82},{"t":2012.75,"s":"A10","v":-0.84},{"t":2012.80,"s":"A10","v":-0.85},{"t":2012.85,"s":"A10","v":-0.86},
        {"t":2012.90,"s":"A10","v":-0.88},{"t":2012.95,"s":"A10","v":-0.86},{"t":2013.00,"s":"A10","v":-0.85},{"t":2013.05,"s":"A10","v":-0.84},{"t":2013.10,"s":"A10","v":-0.86},{"t":2013.15,"s":"A10","v":-0.87},{"t":2013.20,"s":"A10","v":-0.88},{"t":2013.25,"s":"A10","v":-0.89},{"t":2013.30,"s":"A10","v":-0.88},{"t":2013.35,"s":"A10","v":-0.89},
        {"t":2013.40,"s":"A10","v":-0.87},{"t":2013.45,"s":"A10","v":-0.88},{"t":2013.50,"s":"A10","v":-0.86},{"t":2013.55,"s":"A10","v":-0.88},{"t":2013.60,"s":"A10","v":-0.87},{"t":2013.65,"s":"A10","v":-0.88},{"t":2013.70,"s":"A10","v":-0.87},{"t":2013.75,"s":"A10","v":-0.89},{"t":2013.80,"s":"A10","v":-0.88},{"t":2013.85,"s":"A10","v":-0.87},
        {"t":2013.90,"s":"A10","v":-0.88},{"t":2013.95,"s":"A10","v":-0.86},{"t":2014.00,"s":"A10","v":-0.87},{"t":2014.05,"s":"A10","v":-0.85},{"t":2014.10,"s":"A10","v":-0.84},{"t":2014.15,"s":"A10","v":-0.83},{"t":2014.20,"s":"A10","v":-0.86},{"t":2014.25,"s":"A10","v":-0.87},{"t":2014.30,"s":"A10","v":-0.86},{"t":2014.35,"s":"A10","v":-0.88},
        {"t":2014.40,"s":"A10","v":-0.87},{"t":2014.45,"s":"A10","v":-0.88},{"t":2014.50,"s":"A10","v":-0.89},{"t":2014.55,"s":"A10","v":-0.88},{"t":2014.60,"s":"A10","v":-0.90},{"t":2014.65,"s":"A10","v":-0.89},{"t":2014.70,"s":"A10","v":-0.90},{"t":2014.75,"s":"A10","v":-0.88},{"t":2014.80,"s":"A10","v":-0.89},{"t":2014.85,"s":"A10","v":-0.90},
        {"t":2014.90,"s":"A10","v":-0.89},{"t":2014.95,"s":"A10","v":-0.90},{"t":2015.00,"s":"A10","v":-0.88},{"t":2015.05,"s":"A10","v":-0.86},{"t":2015.10,"s":"A10","v":-0.87},{"t":2015.15,"s":"A10","v":-0.85},{"t":2015.20,"s":"A10","v":-0.86},{"t":2015.25,"s":"A10","v":-0.84},{"t":2015.30,"s":"A10","v":-0.85},{"t":2015.35,"s":"A10","v":-0.83},
        {"t":2015.40,"s":"A10","v":-0.82},{"t":2015.45,"s":"A10","v":-0.81},{"t":2015.50,"s":"A10","v":-0.80},{"t":2015.55,"s":"A10","v":-0.84},{"t":2015.60,"s":"A10","v":-0.86},{"t":2015.65,"s":"A10","v":-0.87},{"t":2015.70,"s":"A10","v":-0.88},{"t":2015.75,"s":"A10","v":-0.86},{"t":2015.80,"s":"A10","v":-0.84},{"t":2015.85,"s":"A10","v":-0.85},
        {"t":2015.90,"s":"A10","v":-0.84},{"t":2015.95,"s":"A10","v":-0.86},{"t":2016.00,"s":"A10","v":-0.87},{"t":2016.05,"s":"A10","v":-0.88},{"t":2016.10,"s":"A10","v":-0.83},{"t":2016.15,"s":"A10","v":-0.81},{"t":2016.20,"s":"A10","v":-0.82},{"t":2016.25,"s":"A10","v":-0.80},{"t":2016.30,"s":"A10","v":-0.76},{"t":2016.35,"s":"A10","v":-0.72},
        {"t":2016.40,"s":"A10","v":-0.70},{"t":2016.45,"s":"A10","v":-0.65},{"t":2016.48,"s":"A10","v":-0.62},{"t":2016.52,"s":"A10","v":-0.70},{"t":2016.56,"s":"A10","v":-0.74},

        {"t":2016.600,"s":"A10","v":0},{"t":2016.625,"s":"A10","v":0},{"t":2016.650,"s":"A10","v":0},{"t":2016.675,"s":"A10","v":0},{"t":2016.700,"s":"A10","v":0},{"t":2016.725,"s":"A10","v":0},{"t":2016.750,"s":"A10","v":0},{"t":2016.775,"s":"A10","v":0},
        {"t":2016.800,"s":"A10","v":0},{"t":2016.825,"s":"A10","v":0},{"t":2016.850,"s":"A10","v":0},{"t":2016.875,"s":"A10","v":0},{"t":2016.900,"s":"A10","v":0},{"t":2016.925,"s":"A10","v":0},{"t":2016.950,"s":"A10","v":0},{"t":2016.975,"s":"A10","v":0},
        {"t":2017.000,"s":"A10","v":0},{"t":2017.025,"s":"A10","v":0},{"t":2017.050,"s":"A10","v":0},{"t":2017.075,"s":"A10","v":0},{"t":2017.100,"s":"A10","v":0},{"t":2017.125,"s":"A10","v":0},{"t":2017.150,"s":"A10","v":0},{"t":2017.175,"s":"A10","v":0},
        {"t":2017.200,"s":"A10","v":0},{"t":2017.225,"s":"A10","v":0},{"t":2017.250,"s":"A10","v":0},{"t":2017.275,"s":"A10","v":0},{"t":2017.300,"s":"A10","v":0},{"t":2017.325,"s":"A10","v":0},{"t":2017.350,"s":"A10","v":0},{"t":2017.375,"s":"A10","v":0},
        {"t":2017.400,"s":"A10","v":0},{"t":2017.425,"s":"A10","v":0},{"t":2017.450,"s":"A10","v":0},{"t":2017.475,"s":"A10","v":0},{"t":2017.500,"s":"A10","v":0},{"t":2017.525,"s":"A10","v":0},{"t":2017.550,"s":"A10","v":0},{"t":2017.575,"s":"A10","v":0},
        {"t":2017.600,"s":"A10","v":0},{"t":2017.625,"s":"A10","v":0},{"t":2017.650,"s":"A10","v":0},{"t":2017.675,"s":"A10","v":0},{"t":2017.700,"s":"A10","v":0},{"t":2017.725,"s":"A10","v":0},{"t":2017.750,"s":"A10","v":0},{"t":2017.775,"s":"A10","v":0},
        {"t":2017.800,"s":"A10","v":0},{"t":2017.825,"s":"A10","v":0},{"t":2017.850,"s":"A10","v":0},{"t":2017.875,"s":"A10","v":0},{"t":2017.900,"s":"A10","v":0},{"t":2017.925,"s":"A10","v":0},{"t":2017.950,"s":"A10","v":0},{"t":2017.975,"s":"A10","v":0},
        {"t":2018.000,"s":"A10","v":0},{"t":2018.025,"s":"A10","v":0},{"t":2018.050,"s":"A10","v":0},{"t":2018.075,"s":"A10","v":0},{"t":2018.100,"s":"A10","v":0},{"t":2018.125,"s":"A10","v":0},{"t":2018.150,"s":"A10","v":0},{"t":2018.175,"s":"A10","v":0},
        {"t":2018.200,"s":"A10","v":0},{"t":2018.225,"s":"A10","v":0},{"t":2018.250,"s":"A10","v":0},{"t":2018.275,"s":"A10","v":0},{"t":2018.300,"s":"A10","v":0},{"t":2018.325,"s":"A10","v":0},{"t":2018.350,"s":"A10","v":0},{"t":2018.375,"s":"A10","v":0},
        {"t":2018.400,"s":"A10","v":0},{"t":2018.425,"s":"A10","v":0},{"t":2018.450,"s":"A10","v":0},{"t":2018.475,"s":"A10","v":0},{"t":2018.500,"s":"A10","v":0},{"t":2018.525,"s":"A10","v":0},{"t":2018.550,"s":"A10","v":0},{"t":2018.575,"s":"A10","v":0},
        {"t":2018.600,"s":"A10","v":0},{"t":2018.625,"s":"A10","v":0},{"t":2018.650,"s":"A10","v":0},{"t":2018.675,"s":"A10","v":0},{"t":2018.700,"s":"A10","v":0},{"t":2018.725,"s":"A10","v":0},{"t":2018.750,"s":"A10","v":0},{"t":2018.775,"s":"A10","v":0},
        {"t":2018.800,"s":"A10","v":0},{"t":2018.825,"s":"A10","v":0},{"t":2018.850,"s":"A10","v":0},{"t":2018.875,"s":"A10","v":0},{"t":2018.900,"s":"A10","v":0},{"t":2018.925,"s":"A10","v":0},{"t":2018.950,"s":"A10","v":0},{"t":2018.975,"s":"A10","v":0},
        {"t":2019.000,"s":"A10","v":0},{"t":2019.025,"s":"A10","v":0},{"t":2019.050,"s":"A10","v":0},{"t":2019.075,"s":"A10","v":0},{"t":2019.100,"s":"A10","v":0},{"t":2019.125,"s":"A10","v":0},{"t":2019.150,"s":"A10","v":0},{"t":2019.175,"s":"A10","v":0},
        {"t":2019.200,"s":"A10","v":0},{"t":2019.225,"s":"A10","v":0},{"t":2019.250,"s":"A10","v":0},{"t":2019.275,"s":"A10","v":0},{"t":2019.300,"s":"A10","v":0},{"t":2019.325,"s":"A10","v":0},{"t":2019.350,"s":"A10","v":0},{"t":2019.375,"s":"A10","v":0},
        {"t":2019.400,"s":"A10","v":0},{"t":2019.425,"s":"A10","v":0},{"t":2019.450,"s":"A10","v":0},{"t":2019.475,"s":"A10","v":0},{"t":2019.500,"s":"A10","v":0},{"t":2019.525,"s":"A10","v":0},{"t":2019.550,"s":"A10","v":0},{"t":2019.575,"s":"A10","v":0},
        {"t":2019.600,"s":"A10","v":0},{"t":2019.625,"s":"A10","v":0},{"t":2019.650,"s":"A10","v":0},{"t":2019.675,"s":"A10","v":0},{"t":2019.700,"s":"A10","v":0},{"t":2019.725,"s":"A10","v":0},{"t":2019.750,"s":"A10","v":0},{"t":2019.775,"s":"A10","v":0},
        {"t":2019.800,"s":"A10","v":0},{"t":2019.825,"s":"A10","v":0},{"t":2019.850,"s":"A10","v":0},{"t":2019.875,"s":"A10","v":0},{"t":2019.900,"s":"A10","v":0},{"t":2019.925,"s":"A10","v":0},{"t":2019.950,"s":"A10","v":0},{"t":2019.975,"s":"A10","v":0},
        {"t":2020.000,"s":"A10","v":0},{"t":2020.025,"s":"A10","v":0},{"t":2020.050,"s":"A10","v":0},{"t":2020.075,"s":"A10","v":0},{"t":2020.100,"s":"A10","v":0},{"t":2020.125,"s":"A10","v":0},{"t":2020.150,"s":"A10","v":0},{"t":2020.175,"s":"A10","v":0},
        {"t":2020.200,"s":"A10","v":0},{"t":2020.225,"s":"A10","v":0},{"t":2020.250,"s":"A10","v":0},{"t":2020.275,"s":"A10","v":0},{"t":2020.300,"s":"A10","v":0},{"t":2020.325,"s":"A10","v":0},{"t":2020.350,"s":"A10","v":0},{"t":2020.375,"s":"A10","v":0},
        {"t":2020.400,"s":"A10","v":0},{"t":2020.425,"s":"A10","v":0},{"t":2020.450,"s":"A10","v":0},{"t":2020.475,"s":"A10","v":0},{"t":2020.500,"s":"A10","v":0},{"t":2020.525,"s":"A10","v":0},{"t":2020.550,"s":"A10","v":0},{"t":2020.575,"s":"A10","v":0},
        {"t":2020.600,"s":"A10","v":0},{"t":2020.625,"s":"A10","v":0},{"t":2020.650,"s":"A10","v":0},{"t":2020.675,"s":"A10","v":0},{"t":2020.700,"s":"A10","v":0},{"t":2020.725,"s":"A10","v":0},{"t":2020.750,"s":"A10","v":0},{"t":2020.775,"s":"A10","v":0},
        {"t":2020.800,"s":"A10","v":0},{"t":2020.825,"s":"A10","v":0},{"t":2020.850,"s":"A10","v":0},{"t":2020.875,"s":"A10","v":0},{"t":2020.900,"s":"A10","v":0},{"t":2020.925,"s":"A10","v":0},{"t":2020.950,"s":"A10","v":0},{"t":2020.975,"s":"A10","v":0},
        {"t":2021.000,"s":"A10","v":0},{"t":2021.025,"s":"A10","v":0},{"t":2021.050,"s":"A10","v":0},{"t":2021.075,"s":"A10","v":0},{"t":2021.100,"s":"A10","v":0},{"t":2021.125,"s":"A10","v":0},{"t":2021.150,"s":"A10","v":0},{"t":2021.175,"s":"A10","v":0},
        {"t":2021.200,"s":"A10","v":0},{"t":2021.225,"s":"A10","v":0},{"t":2021.250,"s":"A10","v":0},{"t":2021.275,"s":"A10","v":0},{"t":2021.300,"s":"A10","v":0},{"t":2021.325,"s":"A10","v":0},{"t":2021.350,"s":"A10","v":0},{"t":2021.375,"s":"A10","v":0},
        {"t":2021.400,"s":"A10","v":0},{"t":2021.425,"s":"A10","v":0},{"t":2021.450,"s":"A10","v":0},{"t":2021.475,"s":"A10","v":0},{"t":2021.500,"s":"A10","v":0},{"t":2021.525,"s":"A10","v":0},{"t":2021.550,"s":"A10","v":0},{"t":2021.575,"s":"A10","v":0},
        {"t":2021.600,"s":"A10","v":0},{"t":2021.625,"s":"A10","v":0},{"t":2021.650,"s":"A10","v":0},{"t":2021.675,"s":"A10","v":0},{"t":2021.700,"s":"A10","v":0},{"t":2021.725,"s":"A10","v":0},{"t":2021.750,"s":"A10","v":0},{"t":2021.775,"s":"A10","v":0},
        {"t":2021.800,"s":"A10","v":0},{"t":2021.825,"s":"A10","v":0},{"t":2021.850,"s":"A10","v":0},{"t":2021.875,"s":"A10","v":0},{"t":2021.900,"s":"A10","v":0},{"t":2021.925,"s":"A10","v":0},{"t":2021.950,"s":"A10","v":0},{"t":2021.975,"s":"A10","v":0},
        {"t":2022.000,"s":"A10","v":0},{"t":2022.025,"s":"A10","v":0},{"t":2022.050,"s":"A10","v":0},{"t":2022.075,"s":"A10","v":0},{"t":2022.100,"s":"A10","v":0},{"t":2022.125,"s":"A10","v":0},{"t":2022.150,"s":"A10","v":0},{"t":2022.175,"s":"A10","v":0},
        {"t":2022.200,"s":"A10","v":0},{"t":2022.225,"s":"A10","v":0},{"t":2022.250,"s":"A10","v":0},{"t":2022.275,"s":"A10","v":0},{"t":2022.300,"s":"A10","v":0},{"t":2022.325,"s":"A10","v":0},{"t":2022.350,"s":"A10","v":0},{"t":2022.375,"s":"A10","v":0},
        {"t":2022.400,"s":"A10","v":0},{"t":2022.425,"s":"A10","v":0},{"t":2022.450,"s":"A10","v":0},{"t":2022.475,"s":"A10","v":0},{"t":2022.500,"s":"A10","v":0},{"t":2022.525,"s":"A10","v":0},{"t":2022.550,"s":"A10","v":0},{"t":2022.575,"s":"A10","v":0},
        {"t":2022.600,"s":"A10","v":0},{"t":2022.625,"s":"A10","v":0},{"t":2022.650,"s":"A10","v":0},{"t":2022.675,"s":"A10","v":0},{"t":2022.700,"s":"A10","v":0},{"t":2022.725,"s":"A10","v":0},{"t":2022.750,"s":"A10","v":0},{"t":2022.775,"s":"A10","v":0},
        {"t":2022.800,"s":"A10","v":0},{"t":2022.825,"s":"A10","v":0},{"t":2022.850,"s":"A10","v":0},{"t":2022.875,"s":"A10","v":0},{"t":2022.900,"s":"A10","v":0},{"t":2022.925,"s":"A10","v":0},{"t":2022.950,"s":"A10","v":0},{"t":2022.975,"s":"A10","v":0},
        {"t":2023.000,"s":"A10","v":0},

        {"t":2006.14,"s":"0,0%","v":0},{"t":2016.60,"s":"0,0%","v":0}
      ]},
      "layer": [
        {
          "data": {"values": [{}]},
          "mark": {"type": "rect", "color": "white"},
          "encoding": {
            "x": {"datum": 1998.68, "type": "quantitative", "scale": {"domain": [1997, 2023], "range": [98, 2140], "nice": false, "zero": false}},
            "x2": {"datum": 2020.89},
            "y": {"datum": 1.5, "type": "quantitative", "scale": {"domain": [-1.5, 1.5], "nice": false}},
            "y2": {"datum": 1.307}
          }
        },
        {
          "data": {"values": [{}]},
          "mark": {"type": "rect", "color": "white"},
          "encoding": {
            "x": {"datum": 2018.77, "type": "quantitative"},
            "x2": {"datum": 2023},
            "y": {"datum": 1.217, "type": "quantitative"},
            "y2": {"datum": 0.392}
          }
        },
        {
          "data": {"values": [{}]},
          "mark": {"type": "rule", "color": "#bcbcbc", "strokeWidth": 2.5},
          "encoding": {
            "x": {"datum": 1997, "type": "quantitative"},
            "x2": {"datum": 2023},
            "y": {"datum": -1.2, "type": "quantitative"}
          }
        },
        {
          "transform": [{"filter": "datum.s == '0,0%'"}],
          "mark": {"type": "line", "strokeWidth": 5, "strokeCap": "round"},
          "encoding": {
            "x": {"field": "t", "type": "quantitative"},
            "y": {"field": "v", "type": "quantitative"},
            "color": {
              "field": "s",
              "type": "nominal",
              "scale": {"domain": ["A04", "A07", "A10", "0,0%"], "range": ["#FFC000", "#0070C0", "#FF0000", "#000000"]},
              "legend": {
                "title": null,
                "orient": "none",
                "legendX": 1857,
                "legendY": 211,
                "padding": 0,
                "rowPadding": 37,
                "symbolSize": 2304,
                "labelOffset": 17,
                "labelLimit": 500,
                "labelFont": "Roboto",
                "labelFontSize": 27,
                "labelColor": "#595959",
                "labelExpr": "datum.value == '0,0%' ? '0,0%' : 'Rendement_' + datum.value",
                "encode": {
                  "symbols": {
                    "update": {
                      "shape": {"signal": "datum.value == '0,0%' ? 'M-0.9,0H0.9' : 'M-0.17,0H0.17M0,-0.17V0.17'"},
                      "strokeWidth": {"signal": "datum.value == '0,0%' ? 5 : 1.8"},
                      "strokeCap": {"value": "round"},
                      "fill": {"value": "transparent"},
                      "stroke": {"scale": "color", "field": "value"},
                      "size": {"value": 2304},
                      "opacity": {"value": 1}
                    }
                  }
                }
              }
            }
          }
        },
        {
          "transform": [{"filter": "datum.s != '0,0%'"}],
          "mark": {"type": "point", "shape": "M-1,0H1M0,-1V1", "filled": false, "size": 110, "strokeWidth": 2.2, "opacity": 1},
          "encoding": {
            "x": {
              "field": "t",
              "type": "quantitative",
              "axis": {
                "title": null,
                "values": [1997, 1999, 2001, 2003, 2005, 2007, 2009, 2011, 2013, 2015, 2017, 2019, 2021],
                "labelExpr": "'01/01/' + datum.value",
                "grid": true,
                "gridColor": "#d9d9d9",
                "gridWidth": 1.5,
                "ticks": false,
                "domain": false,
                "labelFont": "Roboto",
                "labelFontSize": 20,
                "labelColor": "#595959",
                "labelPadding": 24,
                "labelFlush": false,
                "labelOverlap": false
              }
            },
            "y": {
              "field": "v",
              "type": "quantitative",
              "axis": {
                "title": null,
                "offset": -98,
                "values": [-1.5, -1, -0.5, 0, 0.5, 1, 1.5],
                "labelExpr": "datum.value < 0 ? '- ' + format(-datum.value, '.0%') : format(datum.value, '.0%')",
                "grid": true,
                "gridColor": "#d9d9d9",
                "gridWidth": 1.5,
                "ticks": false,
                "domain": true,
                "domainColor": "#c4c4c4",
                "domainWidth": 1.5,
                "labelFont": "Roboto",
                "labelFontSize": 20,
                "labelColor": "#595959",
                "labelPadding": 20,
                "labelFlush": false
              }
            },
            "color": {
              "field": "s",
              "type": "nominal",
              "scale": {"domain": ["A04", "A07", "A10", "0,0%"], "range": ["#FFC000", "#0070C0", "#FF0000", "#000000"]},
              "legend": {
                "title": null,
                "orient": "none",
                "legendX": 1857,
                "legendY": 211,
                "padding": 0,
                "rowPadding": 37,
                "symbolSize": 2304,
                "labelOffset": 17,
                "labelLimit": 500,
                "labelFont": "Roboto",
                "labelFontSize": 27,
                "labelColor": "#595959",
                "labelExpr": "datum.value == '0,0%' ? '0,0%' : 'Rendement_' + datum.value",
                "encode": {
                  "symbols": {
                    "update": {
                      "shape": {"signal": "datum.value == '0,0%' ? 'M-0.9,0H0.9' : 'M-0.17,0H0.17M0,-0.17V0.17'"},
                      "strokeWidth": {"signal": "datum.value == '0,0%' ? 5 : 1.8"},
                      "strokeCap": {"value": "round"},
                      "fill": {"value": "transparent"},
                      "stroke": {"scale": "color", "field": "value"},
                      "size": {"value": 2304},
                      "opacity": {"value": 1}
                    }
                  }
                }
              }
            }
          }
        }
      ]
    }
  ]
}
